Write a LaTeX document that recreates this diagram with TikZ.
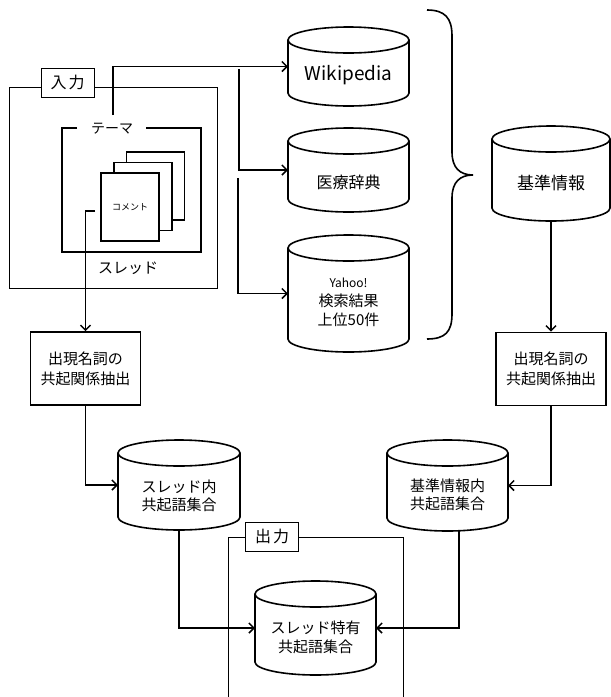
\documentclass[tikz,border=0pt]{standalone}
\usepackage{fontspec}
\setmainfont{Noto Sans CJK JP}
\usetikzlibrary{arrows.meta}
\newcommand\myfs[2]{\fontsize{#1pt}{#2pt}\selectfont}
\tikzset{
  thk/.style={line width=1.6pt},
  thn/.style={line width=0.8pt},
  conn/.style={line width=1.6pt, -{Straight Barb[length=5pt,width=10pt,line width=1.5pt]}},
  cylnode/.style={inner sep=0pt, outer sep=0pt},
  cylline/.style={line width=1.6pt, fill=white},
  procbox/.style={draw, line width=1.6pt, inner sep=0pt, minimum width=110pt, minimum height=73pt, align=center, font=\myfs{15}{20}},
  tag/.style={draw, fill=white, line width=0.8pt, inner sep=0pt, minimum width=53pt, minimum height=29pt, font=\myfs{16}{18}},
  card/.style={draw, fill=white, line width=1.6pt, inner sep=0pt, minimum width=58pt, minimum height=68pt},
  txt/.style={align=center, inner sep=0pt},
}
% name, cx, cy, w, h, text offset, font, text
\newcommand\mkcyl[8]{%
  \node[cylnode, minimum width=#4pt, minimum height=#5pt] (#1) at (#2,#3) {};
  \draw[cylline] ([yshift=-13pt]#1.north west) -- ([yshift=13pt]#1.south west)
     arc[start angle=180, end angle=360, x radius=#4pt/2, y radius=13pt]
     -- ([yshift=-13pt]#1.north east)
     arc[start angle=0, end angle=180, x radius=#4pt/2, y radius=13pt] -- cycle;
  \draw[cylline, fill=none] ([yshift=-13pt]#1.north west)
     arc[start angle=180, end angle=360, x radius=#4pt/2, y radius=13pt];
  \node[txt, font=#7] (#1-t) at ([yshift=-#6pt]#1.center) {#8};
}
\begin{document}
\begin{tikzpicture}[x=1pt, y=-1pt]
\useasboundingbox (0,0) rectangle (611,697);

% ---- input block ----
\draw[thn] (9,87) rectangle (217,288);
\node[tag] (inlbl) at (67.5,82.5) {入\hspace{2pt}力};
\draw[thk] (77,128) -- (62,128) -- (62,252) -- (201,252) -- (201,128) -- (146,128);
\node[txt, font=\myfs{14}{16}] (theme) at (112,129) {テーマ};
\node[card] (c3) at (155.5,186) {};
\node[card] (c2) at (143,196.5) {};
\node[card, font=\myfs{9}{10}] (c1) at (130,207) {\raisebox{-4pt}{コメント}};
\node[txt, font=\myfs{15}{17}] (thread) at (128,268) {スレッド};

% ---- sources ----
\mkcyl{wiki}{348.5}{66.5}{121}{79}{8.5}{\myfs{19}{22}}{Wikipedia}
\mkcyl{med}{348.5}{170}{121}{84}{12}{\myfs{16}{19}}{医療辞典}
\mkcyl{yahoo}{348.5}{293.5}{121}{117}{8.5}{\myfs{15}{19}}{{\fontsize{12pt}{19pt}\selectfont Yahoo!}\\検索結果\\上位50件}
\mkcyl{kijun}{551}{173.5}{118}{95}{9.5}{\myfs{17}{20}}{基準情報}

% brace
\draw[line width=1.6pt] (427,10) .. controls (445,10) and (452,18) .. (452,36)
  -- (452,152) .. controls (452,168) and (460,175) .. (473,175)
  .. controls (460,175) and (452,182) .. (452,198)
  -- (452,314) .. controls (452,332) and (445,339) .. (427,339);

% ---- processing ----
\node[procbox] (procL) at (85.5,368.5) {出現名詞の\\共起関係抽出};
\node[procbox] (procR) at (551,369) {出現名詞の\\共起関係抽出};

\mkcyl{thr}{179}{485}{122}{90}{11}{\myfs{15}{18.5}}{スレッド内\\共起語集合}
\mkcyl{kin}{447.5}{485.5}{121}{91}{9.5}{\myfs{15}{18.5}}{基準情報内\\共起語集合}

% ---- output ----
\draw[thn] (228,700) -- (228,537) -- (403,537) -- (403,700);
\node[tag] (outlbl) at (272,536.5) {出\hspace{2pt}力};
\mkcyl{fin}{315.5}{628}{121}{94}{9.5}{\myfs{15}{18.5}}{スレッド特有\\共起語集合}

% ---- connectors ----
\coordinate (tm) at (113,115);
\draw[conn] (tm) |- (wiki.west);
\coordinate (br1) at (239,69);
\draw[conn] (br1) |- (med.west);
\coordinate (br2) at (238,178);
\draw[conn] (br2) |- (yahoo.west);
\coordinate (cm) at (95,211);
\draw[conn] (cm) -| (procL.north);
\draw[conn] (kijun.south) -- (procR.north);
\draw[conn] (procL.south) |- (thr.west);
\draw[conn] (procR.south) |- (kin.east);
\draw[conn] (thr.south) |- (fin.west);
\draw[conn] ([xshift=11.5pt]kin.south) |- (fin.east);
\end{tikzpicture}
\end{document}
